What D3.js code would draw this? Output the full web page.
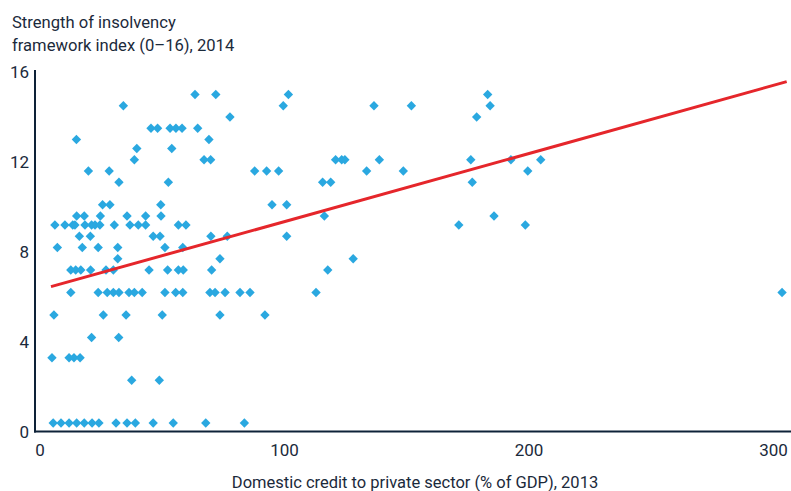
<!DOCTYPE html>
<html>
<head>
<meta charset="utf-8">
<script src="https://cdn.jsdelivr.net/npm/d3@7"></script>
<style>
  html, body { margin: 0; padding: 0; background: #ffffff; }
  svg { display: block; }
  text { font-family: Roboto, "Noto Sans", sans-serif; fill: #1b2a3b; }
</style>
</head>
<body>
<svg id="chart" width="791" height="491"></svg>
<script>
// ---- Data ----
const titleLines = ["Strength of insolvency", "framework index (0\u201316), 2014"];
const xAxisTitle = "Domestic credit to private sector (% of GDP), 2013";
const xTicks = [0, 100, 200, 300];
const yTicks = [0, 4, 8, 12, 16];

// Points grouped by index level: level value and the credit values at that level
const levels = [15.0, 14.5, 14.0, 13.5, 13.0, 12.6, 12.1, 11.6, 11.1, 10.1, 9.6, 9.2, 8.7, 8.2, 7.7, 7.2, 6.2, 5.2, 4.2, 3.3, 2.3, 0.4];
const creditAtLevel = [
  [63.6, 72.1, 101.8, 183.3],
  [34.3, 99.7, 136.8, 152.1, 184.3],
  [77.9, 178.8],
  [45.6, 48.3, 53.4, 55.8, 58.3, 64.7],
  [15.1, 69.3],
  [39.8, 54.1],
  [38.8, 67.3, 70.0, 121.1, 123.6, 124.9, 139.0, 176.4, 192.8, 205.0],
  [20.0, 28.5, 88.0, 92.9, 97.8, 133.8, 148.8, 199.7],
  [32.5, 52.7, 115.8, 119.1, 177.0],
  [25.8, 28.8, 49.6, 95.1, 101.1],
  [15.2, 18.3, 24.9, 35.8, 43.4, 49.7, 116.5, 185.9],
  [6.3, 10.4, 13.6, 14.5, 18.6, 21.3, 22.7, 24.7, 30.6, 37.0, 40.4, 43.4, 56.8, 59.9, 171.5, 198.7],
  [16.3, 20.8, 46.5, 49.3, 70.1, 76.8, 101.1],
  [7.3, 17.5, 24.0, 32.0, 51.3, 58.6],
  [32.0, 73.8, 128.3],
  [12.8, 14.8, 16.9, 20.9, 27.2, 30.2, 44.8, 52.4, 56.8, 58.8, 70.4, 117.9],
  [12.8, 24.0, 27.7, 30.2, 32.5, 36.6, 38.8, 42.0, 51.3, 55.7, 58.6, 69.7, 71.8, 75.9, 82.0, 86.1, 113.1, 303.7],
  [5.9, 26.1, 35.4, 50.2, 73.8, 92.2],
  [21.3, 32.4],
  [5.1, 12.1, 14.1, 16.6],
  [37.7, 49.0],
  [5.6, 8.8, 12.1, 15.2, 18.3, 21.5, 24.3, 31.3, 35.8, 39.2, 46.5, 54.7, 68.0, 83.8]
];

// Fitted trend line end points
const trendX = [4.7, 305.6];
const trendY = [6.46, 15.57];

// ---- Build point table ----
const points = [];
levels.forEach((lv, i) => creditAtLevel[i].forEach(c => points.push({ x: c, y: lv })));

// ---- Chart ----
const svg = d3.select("#chart");
const x = d3.scaleLinear().domain([0, 300]).range([39.5, 773]);
const y = d3.scaleLinear().domain([0, 16]).range([432, 72]);

const navy = "#0e2238";
const blue = "#2aa8e0";
const red = "#e5262b";

// Title
svg.append("text").attr("x", 12).attr("y", 28).attr("font-size", 16.6).text(titleLines[0]);
svg.append("text").attr("x", 12).attr("y", 51).attr("font-size", 16.6).text(titleLines[1]);

// Y axis labels
const yAxis = d3.axisLeft(y).tickValues(yTicks).tickSize(0).tickPadding(0).tickFormat(d3.format("d"));
const gy = svg.append("g").attr("transform", "translate(29,0)").call(yAxis);
gy.select(".domain").remove();
gy.selectAll("text").attr("font-size", 17).attr("font-family", "Roboto, sans-serif").attr("fill", "#1b2a3b").attr("dy", "0.35em");

// X axis labels
const xAxis = d3.axisBottom(x).tickValues(xTicks).tickSize(0).tickPadding(0).tickFormat(d3.format("d"));
const gx = svg.append("g").attr("transform", "translate(0,444)").call(xAxis);
gx.select(".domain").remove();
gx.selectAll("text").attr("font-size", 17).attr("font-family", "Roboto, sans-serif").attr("fill", "#1b2a3b").attr("dy", "0.71em");

// X axis title
svg.append("text").attr("x", 415).attr("y", 488).attr("text-anchor", "middle").attr("font-size", 16.5).text(xAxisTitle);

// Points (diamonds)
const diamond = d3.symbol().type(d3.symbolSquare).size(44);
svg.append("g").selectAll("path").data(points).join("path")
  .attr("d", diamond)
  .attr("transform", d => `translate(${x(d.x)},${y(d.y)}) rotate(45)`)
  .attr("fill", blue);

// Trend line
svg.append("line")
  .attr("x1", x(trendX[0])).attr("y1", y(trendY[0]))
  .attr("x2", x(trendX[1])).attr("y2", y(trendY[1]))
  .attr("stroke", red).attr("stroke-width", 3);

// Axis lines
svg.append("line").attr("x1", 35).attr("x2", 35).attr("y1", 70).attr("y2", 432.5)
  .attr("stroke", navy).attr("stroke-width", 2);
svg.append("line").attr("x1", 34).attr("x2", 791).attr("y1", 431.5).attr("y2", 431.5)
  .attr("stroke", navy).attr("stroke-width", 2);
</script>
</body>
</html>
